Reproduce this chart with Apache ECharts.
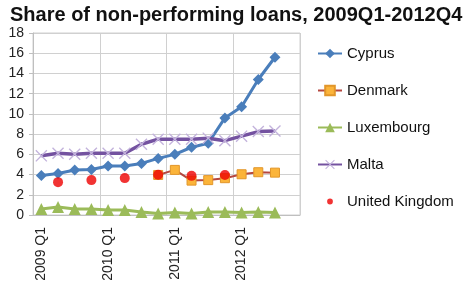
<!DOCTYPE html>
<html><head><meta charset="utf-8">
<script src="https://cdn.jsdelivr.net/npm/echarts@6/dist/echarts.min.js"></script>
<style>html,body{margin:0;padding:0;background:#fff;}#c{width:472px;height:285px;}</style>
</head><body><div id="c"></div>
<script>
const categories = ['2009 Q1','2009 Q2','2009 Q3','2009 Q4','2010 Q1','2010 Q2','2010 Q3','2010 Q4','2011 Q1','2011 Q2','2011 Q3','2011 Q4','2012 Q1','2012 Q2','2012 Q3','2012 Q4'];
const cyprus = [3.9, 4.1, 4.45, 4.5, 4.85, 4.85, 5.1, 5.6, 6.0, 6.7, 7.1, 9.6, 10.7, 13.4, 15.6, null];
const denmark = [null, null, null, null, null, null, null, 3.96, 4.46, 3.4, 3.45, 3.64, 4.03, 4.23, 4.19, null];
const luxembourg = [0.6, 0.8, 0.6, 0.6, 0.5, 0.5, 0.3, 0.15, 0.25, 0.15, 0.3, 0.3, 0.25, 0.3, 0.25, null];
const malta = [5.85, 6.1, 6.0, 6.1, 6.1, 6.1, 7.0, 7.5, 7.5, 7.5, 7.6, 7.35, 7.8, 8.25, 8.3, null];
const uk = [null, 3.25, null, 3.45, null, 3.65, null, 3.98, null, 3.87, null, 3.96, null, null, null, null];
const yTicks = {min: 0, max: 18, interval: 2};

const xMark = 'path://M0,0.8L0.8,0L5,4.2L9.2,0L10,0.8L5.8,5L10,9.2L9.2,10L5,5.8L0.8,10L0,9.2L4.2,5Z';
const smallDot = 'path://M0,0L0.01,0L0.01,0.01ZM10,10L9.99,10L9.99,9.99ZM5,2.6A2.4,2.4 0 1,1 5,7.4A2.4,2.4 0 1,1 5,2.6Z';
const chart = echarts.init(document.getElementById('c'));
chart.setOption({
  animation: false,
  textStyle: {fontFamily: 'Liberation Sans'},
  title: {text: 'Share of non-performing loans, 2009Q1-2012Q4', left: 5, top: 0,
    textStyle: {fontSize: 20, fontWeight: 'bold', color: '#111', fontFamily: 'Liberation Sans'}},
  grid: {left: 33, top: 33, right: 172, bottom: 70, show: true, borderColor: '#d0d0d0', borderWidth: 1},
  legend: {orient: 'vertical', left: 312, top: 41, itemGap: 22, itemWidth: 24, itemHeight: 12,
    textStyle: {fontSize: 15, color: '#111'},
    data: ['Cyprus','Denmark','Luxembourg','Malta',{name: 'United Kingdom', icon: smallDot}]},
  xAxis: {type: 'category', data: categories, boundaryGap: true,
    axisLine: {lineStyle: {color: '#bfbfbf'}},
    axisTick: {interval: 3, length: 5, lineStyle: {color: '#bfbfbf'}},
    axisLabel: {interval: 3, rotate: 90, fontSize: 14, color: '#222', margin: 12},
    splitLine: {show: true, interval: 3, lineStyle: {color: '#d0d0d0'}}},
  yAxis: {type: 'value', min: yTicks.min, max: yTicks.max, interval: yTicks.interval,
    axisLine: {show: true, lineStyle: {color: '#bfbfbf'}},
    axisTick: {show: true, length: 4, lineStyle: {color: '#bfbfbf'}},
    axisLabel: {fontSize: 14, color: '#222', margin: 9},
    splitLine: {lineStyle: {color: '#d0d0d0'}}},
  series: [
    {name: 'Cyprus', type: 'line', data: cyprus, symbol: 'diamond', symbolSize: 11, showAllSymbol: true,
      lineStyle: {color: '#4a7ebb', width: 3}, itemStyle: {color: '#4a7ebb'}},
    {name: 'Denmark', type: 'line', data: denmark, symbol: 'rect', symbolSize: 9, showAllSymbol: true,
      lineStyle: {color: '#b5473f', width: 2}, itemStyle: {color: '#fbb43a', borderColor: '#e2962a', borderWidth: 1}},
    {name: 'Luxembourg', type: 'line', data: luxembourg, symbol: 'triangle', symbolSize: 12, showAllSymbol: true,
      lineStyle: {color: '#9bbb59', width: 3}, itemStyle: {color: '#9bbb59'}},
    {name: 'Malta', type: 'line', data: malta, symbol: xMark, symbolSize: 12, showAllSymbol: true,
      lineStyle: {color: '#7452a0', width: 3.5}, itemStyle: {color: '#c3b3dc'}},
    {name: 'United Kingdom', type: 'scatter', data: uk, symbol: 'circle', symbolSize: 10, z: 5,
      itemStyle: {color: '#ee0000'}}
  ]
});
</script></body></html>
